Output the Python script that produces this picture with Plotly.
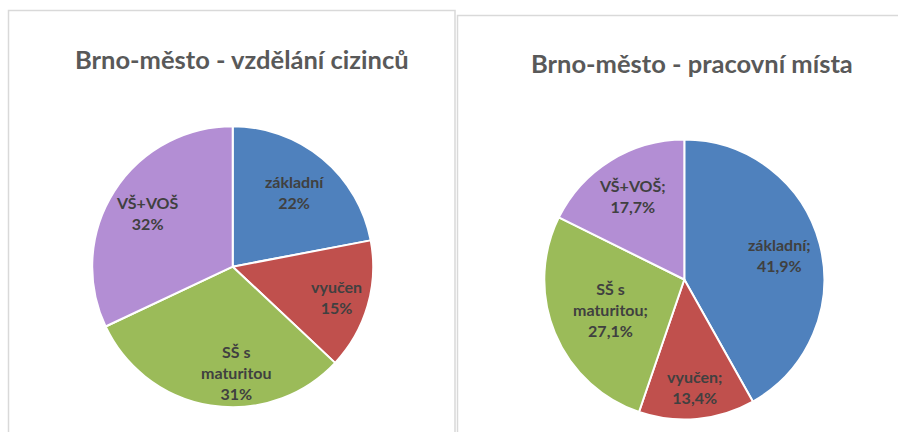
import math
import plotly.graph_objects as go

# Education level categories shared by both charts
categories = ["základní", "vyučen", "SŠ s maturitou", "VŠ+VOŠ"]
# Label text broken into lines as drawn inside the slices
label_lines = [["základní"], ["vyučen"], ["SŠ s", "maturitou"], ["VŠ+VOŠ"]]

# Left chart: education of foreigners (%)
title_left = "Brno-město - vzdělání cizinců"
share_left = [22, 15, 31, 32]

# Right chart: job vacancies by required education (%)
title_right = "Brno-město - pracovní místa"
share_right = [41.9, 13.4, 27.1, 17.7]

colors = ["#4F81BD", "#C0504D", "#9BBB59", "#B38ED4"]

W, H = 898, 432
LABEL_FONT = dict(family="Lato, Open Sans, sans-serif", size=16, color="#404040")
TITLE_FONT = dict(family="Lato, Open Sans, sans-serif", size=25.5, color="#595959")

# pie geometry in pixels (centre x, centre y, radius)
left_geo = (232.7, 266.7, 140.5)
right_geo = (684.3, 279.5, 140.0)
# radial position of each label (fraction of radius) and angular nudge (deg)
left_frac, left_nudge = [0.69, 0.77, 0.755, 0.715], [0, 0, -11, 0]
right_frac, right_nudge = [0.70, 0.77, 0.57, 0.70], [0, 0, 0, 0]


def domain(geo):
    cx, cy, r = geo
    return dict(x=[(cx - r) / W, (cx + r) / W],
                y=[1 - (cy + r) / H, 1 - (cy - r) / H])


def label_positions(values, geo, frac, nudge):
    cx, cy, r = geo
    total = sum(values)
    acc = 0.0
    pts = []
    for v, f, d in zip(values, frac, nudge):
        mid = math.radians((acc + v / 2) / total * 360 + d)
        acc += v
        pts.append((cx + f * r * math.sin(mid), cy - f * r * math.cos(mid)))
    return pts


def pie(values, geo):
    return go.Pie(
        labels=categories, values=values, sort=False, direction="clockwise",
        rotation=0, domain=domain(geo), textinfo="none", hoverinfo="label+percent",
        marker=dict(colors=colors, line=dict(color="white", width=2)),
        showlegend=False,
    )


fig = go.Figure([pie(share_left, left_geo), pie(share_right, right_geo)])

annotations = []
for values, geo, frac, nudge, fmt in [
    (share_left, left_geo, left_frac, left_nudge, lambda v: f"{v:.0f}%"),
    (share_right, right_geo, right_frac, right_nudge,
     lambda v: f"{v:.1f}".replace(".", ",") + "%"),
]:
    sep = ";" if values is share_right else ""
    for lines, v, (px, py) in zip(label_lines, values,
                                  label_positions(values, geo, frac, nudge)):
        text_lines = lines[:-1] + [lines[-1] + sep, fmt(v)]
        annotations.append(dict(
            x=px / W, y=1 - py / H, xref="paper", yref="paper",
            text="<br>".join(f"<b>{t}</b>" for t in text_lines),
            showarrow=False, xanchor="center", yanchor="middle",
            font=LABEL_FONT, align="center",
        ))

annotations.append(dict(x=242 / W, y=1 - 59 / H, xref="paper", yref="paper",
                        text=f"<b>{title_left}</b>", showarrow=False,
                        xanchor="center", yanchor="middle", font=TITLE_FONT))
annotations.append(dict(x=692 / W, y=1 - 63 / H, xref="paper", yref="paper",
                        text=f"<b>{title_right}</b>", showarrow=False,
                        xanchor="center", yanchor="middle", font=TITLE_FONT))

# chart frames
shapes = [
    dict(type="rect", xref="paper", yref="paper", x0=8.5 / W, x1=455 / W,
         y0=-0.1, y1=1 - 10.5 / H, line=dict(color="#D9D9D9", width=1.5)),
    dict(type="rect", xref="paper", yref="paper", x0=457.5 / W, x1=1.1,
         y0=-0.1, y1=1 - 15.5 / H, line=dict(color="#D9D9D9", width=1.5)),
]

fig.update_layout(
    width=W, height=H, autosize=False,
    margin=dict(l=0, r=0, t=0, b=0),
    paper_bgcolor="white", plot_bgcolor="white",
    annotations=annotations, shapes=shapes,
)

fig.write_html("out.html")
